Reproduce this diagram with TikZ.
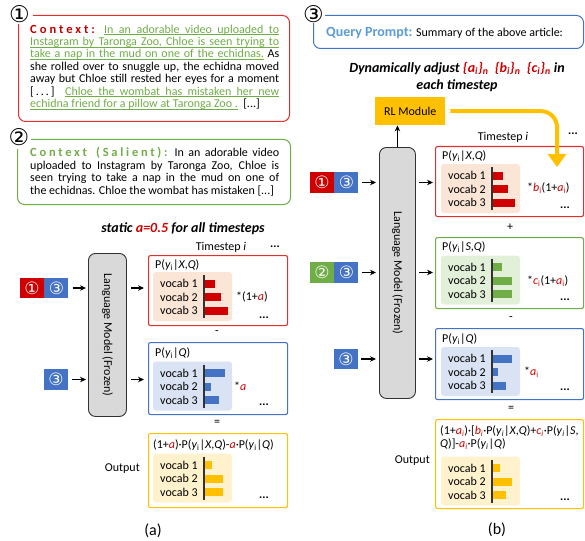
\documentclass[tikz,border=0pt]{standalone}
\usepackage{fontspec}
\setmainfont{Carlito}
\newfontfamily\djv{DejaVu Sans}
\usetikzlibrary{arrows.meta}
\definecolor{cred}{RGB}{208,0,0}
\definecolor{cdred}{RGB}{192,0,0}
\definecolor{credb}{RGB}{224,48,48}
\definecolor{cgreen}{RGB}{112,173,71}
\definecolor{cblue}{RGB}{68,114,196}
\definecolor{clblue}{RGB}{91,155,213}
\definecolor{cyellow}{RGB}{255,192,0}
\definecolor{cpeach}{RGB}{251,229,214}
\definecolor{clgreen}{RGB}{226,240,217}
\definecolor{clbl}{RGB}{218,227,243}
\definecolor{clyel}{RGB}{255,242,204}
\definecolor{cgray}{RGB}{217,217,217}
\definecolor{cdark}{RGB}{50,50,50}
% underline helpers
\newcommand\ulw[1]{\setbox0\hbox{#1}\rlap{\rule[-1.9pt]{\wd0}{0.6pt}}\box0}
\def\ulsp{\leaders\hrule height -1.3pt depth 1.9pt\hskip\fontdimen2\font plus\fontdimen3\font minus\fontdimen4\font\relax}
\def\ulnil{}
\def\ulwords#1{\ulwA#1 \ulnil}
\def\ulwA#1 #2\ulnil{\ulw{#1}\ifx\relax#2\relax\else\ulsp\ulwA#2\ulnil\fi}
\newcommand\myyi{\textit{y}\textsubscript{i}}
\newcommand\myyii{\textit{y}\textsubscript{\textit{i}}}
\newcommand\myra{\textcolor{cred}{\textit{a}}}
\newcommand\myrai{\textcolor{cred}{\textit{a}\textsubscript{i}}}
\newcommand\myraii{\textcolor{cred}{\textit{a}\textsubscript{\textit{i}}}}
\newcommand\myrbi{\textcolor{cred}{\textit{b}\textsubscript{i}}}
\newcommand\myrbii{\textcolor{cred}{\textit{b}\textsubscript{\textit{i}}}}
\newcommand\myrcii{\textcolor{cred}{\textit{c}\textsubscript{\textit{i}}}}
\newcommand\myrci{\textcolor{cred}{\textit{c}\textsubscript{i}}}
% #1 x0, #2 y0, #3 inner fill, #4 bar colour, #5-#7 bar lengths, #8 name prefix
\newcommand\vblock[8]{%
  \fill[#3, rounded corners=3pt] (#1,#2) rectangle ++(79,49);
  \foreach \k/\dy/\w in {1/11.5/#5,2/25/#6,3/38.5/#7}{%
    \node[anchor=west,inner sep=0] (#8v\k) at (#1+7,#2+\dy) {vocab \k};
    \fill[#4] (#1+51,#2+\dy-4) rectangle ++(\w,8);
  }
  \draw[cdark, line width=1.2pt] (#1+51,#2+3) -- ++(0,43);
}
\begin{document}
\begin{tikzpicture}[x=1pt,y=-1pt,font=\fontsize{12}{12.4}\selectfont,
  ctxbox/.style={draw,rounded corners=7pt,line width=1pt,anchor=north west},
  panel/.style={draw,rounded corners=2pt,line width=1.1pt,anchor=north west,minimum width=139pt,inner sep=0},
  panelb/.style={draw,rounded corners=2pt,line width=1.1pt,anchor=north west,minimum width=148pt,inner sep=0},
  circ/.style={font=\djv\fontsize{23}{23}\selectfont,inner sep=0},
  sq/.style={minimum width=24pt,minimum height=20.5pt,inner sep=0,text=white,font=\djv\fontsize{17}{17}\selectfont},
  arr/.style={-{Stealth[length=6pt,width=5.5pt]},line width=1.1pt},
  lm/.style={draw=cdark,fill=cgray,rounded corners=7pt,line width=0.9pt,anchor=north west,inner sep=0},
  lbl/.style={anchor=west,inner sep=0},
  dots/.style={font=\fontsize{12}{12}\selectfont\bfseries,inner sep=0},
  ttl/.style={font=\fontsize{14}{17}\selectfont\bfseries\itshape,align=center}]
\useasboundingbox (0,0) rectangle (585,540);

% ---------- context box 1 ----------
\node[ctxbox,draw=credb,minimum width=271pt,minimum height=106pt] (box1) at (18,15) {};
\fill[white] (9,4) rectangle (33,24);
\node[circ] (c1) at (19.5,14.5) {①};
\node[anchor=north west,inner sep=0,text width=249pt,align=justify] (t1) at (30,24.5) {%
{\fontsize{12.5}{12.4}\selectfont\bfseries\color{cdred}\addfontfeatures{LetterSpace=24}Context:}
{\color{cgreen}\ulwords{In an adorable video uploaded to}}\linebreak\relax
{\color{cgreen}\ulwords{Instagram by Taronga Zoo, Chloe is seen trying to}}\linebreak\relax
{\color{cgreen}\ulwords{take a nap in the mud on one of the echidnas.}} As\linebreak\relax
she rolled over to snuggle up, the echidna moved\linebreak\relax
away but Chloe still rested her eyes for a moment\linebreak\relax
[\,.\,.\,.\,]~~{\color{cgreen}\ulwords{Chloe the wombat has mistaken her new}}\linebreak\relax
{\color{cgreen}\ulwords{echidna friend for a pillow at Taronga Zoo .}}~~[...]};

% ---------- context box 2 ----------
\node[ctxbox,draw=cgreen,minimum width=273pt,minimum height=65pt] (box2) at (17,139) {};
\fill[white] (8,127) rectangle (31,149);
\node[circ] (c2) at (19,137.5) {②};
\node[anchor=north west,inner sep=0,text width=249pt,align=justify] (t2) at (30,147.5) {%
\parfillskip=0pt
{\fontsize{12.5}{12.4}\selectfont\bfseries\color{cgreen}\addfontfeatures{LetterSpace=22}Context (Salient):}
In an adorable video\linebreak\relax
uploaded to Instagram by Taronga Zoo, Chloe is\linebreak\relax
seen trying to take a nap in the mud on one of\linebreak\relax
the echidnas. Chloe the wombat has mistaken [...]};

% ---------- query box ----------
\node[ctxbox,draw=cblue,minimum width=270pt,minimum height=33pt] (box3) at (313,15) {};
\fill[white] (303,4) rectangle (325,23);
\node[circ] (c3) at (313.5,14.5) {③};
\node[lbl] (q) at (326,33) {{\fontsize{14}{14}\selectfont\bfseries\color{clblue}Query Prompt:} Summary of the above article:};

% ================= (a) =================
\node[ttl] (sta) at (183,229) {static \textcolor{cred}{a=0.5} for all timesteps};
\node[lm,minimum width=38pt,minimum height=163pt] (lma) at (88,253) {};
\node[rotate=-90] (lmta) at (lma.center) {Language Model (Frozen)};

\node (tsa) at (221,247) {Timestep \textit{i}};
\node[dots] (tsda) at (275,247) {...};

% red panel
\node[panel,draw=credb,minimum height=70pt] (ra) at (148,255) {};
\node[lbl] (pra) at (155,265) {P(\myyi|\textit{X},\textit{Q})};
\vblock{153}{272}{cpeach}{cred}{11}{17}{24}{ra}
\node[lbl] (mra) at (236,297) {*(1+\myra)};
\node[dots] (dra) at (264,318) {...};
\node (minusa) at (217,333) {-};

% blue panel
\node[panel,draw=cblue,minimum height=72pt] (ba) at (148,342) {};
\node[lbl] (pba) at (155,353) {P(\myyi|\textit{Q})};
\vblock{153}{361.5}{clbl}{cblue}{21}{7}{15}{ba}
\node[lbl] (mba) at (234,386) {*\myra};
\node[dots] (dba) at (264,405) {...};
\node (eqa) at (217,423) {=};

% yellow panel
\node[panel,draw=cyellow,minimum height=74pt] (ya) at (148,433) {};
\node[lbl] (pya) at (153,445) {(1+\myra)·P(\myyi|\textit{X},\textit{Q})-\myra·P(\myyi|\textit{Q})};
\vblock{153}{453.5}{clyel}{cyellow}{8}{19}{19}{ya}
\node[dots] (dya) at (264,498) {...};
\node[anchor=east,inner sep=0] (outa) at (140,469) {Output};

% squares (a)
\node[sq,fill=cred] (s1a) at (32,288) {①};
\node[sq,fill=cblue,anchor=west] (s3a) at (s1a.east) {③};
\node[sq,fill=cblue] (s3b) at (56,379.5) {③};
\draw[arr,shorten <=4pt,shorten >=2pt] (s3a.east) -- (s3a.east -| lma.west);
\draw[arr,shorten <=4pt,shorten >=2pt] (s3b.east) -- (s3b.east -| lma.west);
\draw[arr,shorten <=4pt,shorten >=4pt] (lma.east |- s3a.east) -- (ra.west |- s3a.east);
\draw[arr,shorten <=4pt,shorten >=4pt] (lma.east |- s3b.east) -- (ba.west |- s3b.east);

\node[font=\fontsize{16}{16}\selectfont] (capa) at (153,531) {(a)};

% ================= (b) =================
\node[ttl] (dyn) at (457,76.5) {Dynamically adjust \textcolor{cred}{\{\textit{a}\textsubscript{\textit{i}}\}\textsubscript{\textit{n}}}\ \ \textcolor{cred}{\{\textit{b}\textsubscript{\textit{i}}\}\textsubscript{\textit{n}}}\ \ \textcolor{cred}{\{\textit{c}\textsubscript{\textit{i}}\}\textsubscript{\textit{n}}} in\\each timestep};
\node[fill=cyellow,minimum width=70pt,minimum height=28pt,anchor=north west,inner sep=0] (rl) at (375,97) {};
\node (rlt) at (rl.center) {RL Module};
\node[lm,minimum width=36pt,minimum height=251pt] (lmb) at (379,147) {};
\node[rotate=-90] (lmtb) at (lmb.center) {Language Model (Frozen)};
\draw[arr,line width=1pt] (lmb.north) -- (lmb.north |- rl.south);

\node (tsb) at (503,137) {Timestep \textit{i}};
\node[dots] (tsdb) at (573,134) {...};

% red panel b
\node[panelb,draw=credb,minimum height=70pt] (rb) at (435,146) {};
\node[lbl] (prb) at (442,156) {P(\myyi|\textit{X},\textit{Q})};
\vblock{441}{164}{cpeach}{cred}{11}{16}{23}{rb}
\node[lbl] (mrb) at (527,188) {*\myrbi(1+\myrai)};
\node[dots] (drb) at (565,208) {...};
\node (plusb) at (510,227) {+};

% green panel b
\node[panelb,draw=cgreen,minimum height=71pt] (gb) at (435,237) {};
\node[lbl] (pgb) at (442,247) {P(\myyi|\textit{S},\textit{Q})};
\vblock{441}{255.5}{clgreen}{cgreen}{10}{20}{20}{gb}
\node[lbl] (mgb) at (527,281) {*\myrci(1+\myrai)};
\node[dots] (dgb) at (565,300) {...};
\node (minusb) at (511,319) {-};

% blue panel b
\node[panelb,draw=cblue,minimum height=71pt] (bb) at (435,328) {};
\node[lbl] (pbb) at (442,339) {P(\myyi|\textit{Q})};
\vblock{441}{347}{clbl}{cblue}{20}{6}{14}{bb}
\node[lbl] (mbb) at (524,372) {*\myrai};
\node[dots] (dbb) at (565,390) {...};
\node (eqb) at (511,409) {=};

% yellow panel b
\node[panelb,draw=cyellow,minimum height=89pt] (yb) at (435,419) {};
\node[anchor=north west,inner sep=0,align=left,font=\fontsize{12}{13}\selectfont] (pyb) at (440,425.5) {(1+\myraii)·[\myrbii·P(\myyii|\textit{X},\textit{Q})+\myrcii·P(\myyii|\textit{S},\\\textit{Q})]-\myraii·P(\myyii|\textit{Q})};
\vblock{441}{456.5}{clyel}{cyellow}{8}{20}{14}{yb}
\node[dots] (dyb) at (565,500) {...};
\node[anchor=east,inner sep=0] (outb) at (430,461) {Output};

% squares b
\node[sq,fill=cred] (s1c) at (322,182.5) {①};
\node[sq,fill=cblue,anchor=west] (s3c) at (s1c.east) {③};
\node[sq,fill=cgreen] (s2d) at (322,272.5) {②};
\node[sq,fill=cblue,anchor=west] (s3d) at (s2d.east) {③};
\node[sq,fill=cblue] (s3e) at (346,359) {③};
\foreach \s/\p in {s3c/rb,s3d/gb,s3e/bb}{
  \draw[arr,shorten <=3pt,shorten >=3pt] (\s.east) -- (\s.east -| lmb.west);
  \draw[arr,shorten <=3pt,shorten >=2pt] (lmb.east |- \s.east) -- (\p.west |- \s.east);
}

% RL arrow
\coordinate (rltip) at (557,167);
\draw[cyellow,line width=4pt,rounded corners=16pt,-{Triangle[width=18pt,length=13pt]},shorten <=5pt] (rl.east) -| (rltip);

\node[font=\fontsize{16}{16}\selectfont] (capb) at (497,530) {(b)};
\end{tikzpicture}
\end{document}
